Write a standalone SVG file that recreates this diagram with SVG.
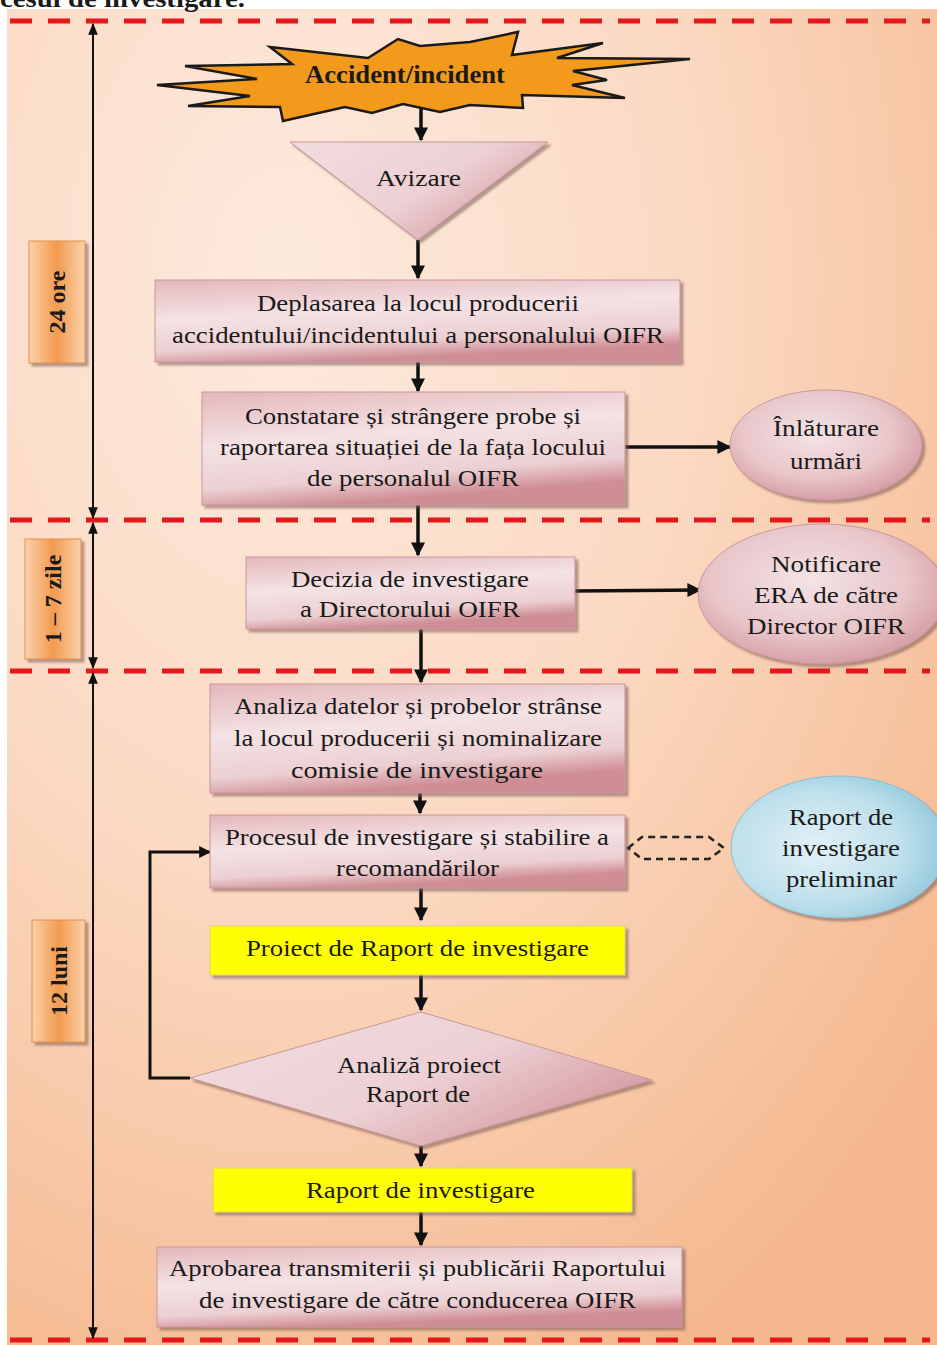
<svg xmlns="http://www.w3.org/2000/svg" width="937" height="1345" viewBox="0 0 937 1345">
<defs>
<radialGradient id="bg" cx="0.3" cy="0.2" r="0.9">
<stop offset="0" stop-color="#fdeade"/>
<stop offset="0.5" stop-color="#fbd9c2"/>
<stop offset="1" stop-color="#f5b88e"/>
</radialGradient>
<linearGradient id="pink" x1="0" y1="0" x2="0.3" y2="1">
<stop offset="0" stop-color="#e4b7bb"/>
<stop offset="0.45" stop-color="#f4e2e4"/>
<stop offset="0.8" stop-color="#ecd0d3"/>
<stop offset="1" stop-color="#cf8d95"/>
</linearGradient>
<linearGradient id="pinkTri" x1="0" y1="0" x2="1" y2="0.6">
<stop offset="0" stop-color="#f3dde0"/>
<stop offset="0.6" stop-color="#ecd0d4"/>
<stop offset="1" stop-color="#d59aa1"/>
</linearGradient>
<radialGradient id="pinkEl" cx="0.45" cy="0.4" r="0.65">
<stop offset="0" stop-color="#f4e3e5"/>
<stop offset="0.6" stop-color="#e8c6ca"/>
<stop offset="1" stop-color="#d3979e"/>
</radialGradient>
<radialGradient id="blueEl" cx="0.4" cy="0.5" r="0.65">
<stop offset="0" stop-color="#e3f1f6"/>
<stop offset="0.6" stop-color="#bfe0ec"/>
<stop offset="1" stop-color="#8cc6da"/>
</radialGradient>
<linearGradient id="orangeLbl" x1="0" y1="0" x2="1" y2="0">
<stop offset="0" stop-color="#fbd2ac"/>
<stop offset="0.5" stop-color="#f29a4f"/>
<stop offset="1" stop-color="#fbd2ac"/>
</linearGradient>
<filter id="sh" x="-10%" y="-10%" width="130%" height="140%">
<feDropShadow dx="3" dy="3" stdDeviation="1.2" flood-color="#7a5a55" flood-opacity="0.55"/>
</filter>
<marker id="ah" viewBox="0 0 10 10" refX="9" refY="5" markerWidth="4" markerHeight="4" orient="auto" markerUnits="strokeWidth">
<path d="M0,0 L10,5 L0,10 z" fill="#111"/>
</marker>
<marker id="ahT" viewBox="0 0 10 10" refX="9" refY="5" markerWidth="6" markerHeight="6" orient="auto" markerUnits="strokeWidth">
<path d="M0,1 L10,5 L0,9 z" fill="#111"/>
</marker>
<marker id="ahS" viewBox="0 0 10 10" refX="1" refY="5" markerWidth="6" markerHeight="6" orient="auto" markerUnits="strokeWidth">
<path d="M10,1 L0,5 L10,9 z" fill="#111"/>
</marker>
</defs>
<style>
text{font-family:"Liberation Serif","Times New Roman",serif;fill:#1a1a1a;text-anchor:middle}
.t{font-size:23px}
.b{font-weight:bold}
.box{fill:url(#pink);stroke:#c8959b;stroke-width:1;filter:url(#sh)}
.ybox{fill:#ffff00;stroke:#d8d870;stroke-width:1;filter:url(#sh)}
.red{stroke:#e4171b;stroke-width:5;stroke-dasharray:22 16;fill:none}
.c{stroke:#111;stroke-width:3.5;fill:none}
.tl{stroke:#111;stroke-width:2;fill:none}
.lbl{fill:url(#orangeLbl);stroke:#e0904a;stroke-width:1;filter:url(#sh)}
</style>
<rect x="0" y="0" width="937" height="1345" fill="#ffffff"/>
<rect x="7" y="9" width="930" height="1336" fill="url(#bg)"/>
<text x="0" y="7" class="b" style="font-size:25px;text-anchor:start" textLength="245" lengthAdjust="spacingAndGlyphs">cesul de investigare.</text>

<g id="separators">
<line x1="10" y1="21" x2="930" y2="21" class="red"/>
<line x1="10" y1="520" x2="930" y2="520" class="red"/>
<line x1="10" y1="671" x2="930" y2="671" class="red"/>
<line x1="10" y1="1340" x2="930" y2="1340" class="red"/>
</g>

<g id="timeline">
<line x1="93" y1="24" x2="93" y2="518" class="tl" marker-start="url(#ahS)" marker-end="url(#ahT)"/>
<line x1="93" y1="523" x2="93" y2="668" class="tl" marker-start="url(#ahS)" marker-end="url(#ahT)"/>
<line x1="93" y1="673" x2="93" y2="1338" class="tl" marker-start="url(#ahS)" marker-end="url(#ahT)"/>
</g>

<g id="label-24ore">
<rect x="29" y="241" width="56" height="122" class="lbl"/>
<text transform="translate(65,302) rotate(-90)" class="b" style="font-size:24px">24 ore</text>
</g>
<g id="label-1-7zile">
<rect x="25" y="539" width="56" height="120" class="lbl"/>
<text transform="translate(61,599) rotate(-90)" class="b" style="font-size:24px">1 – 7 zile</text>
</g>
<g id="label-12luni">
<rect x="32" y="920" width="53" height="122" class="lbl"/>
<text transform="translate(67,981) rotate(-90)" class="b" style="font-size:24px">12 luni</text>
</g>

<g id="connectors">
<line x1="421" y1="108" x2="421" y2="140" class="c" marker-end="url(#ah)"/>
<line x1="418" y1="240" x2="418" y2="278" class="c" marker-end="url(#ah)"/>
<line x1="418" y1="362" x2="418" y2="391" class="c" marker-end="url(#ah)"/>
<line x1="625" y1="447" x2="730" y2="447" class="c" marker-end="url(#ah)"/>
<line x1="418" y1="505" x2="418" y2="555" class="c" marker-end="url(#ah)"/>
<line x1="575" y1="591" x2="700" y2="590" class="c" marker-end="url(#ah)"/>
<line x1="421" y1="629" x2="421" y2="682" class="c" marker-end="url(#ah)"/>
<line x1="420" y1="793" x2="420" y2="813" class="c" marker-end="url(#ah)"/>
<line x1="421" y1="888" x2="421" y2="920" class="c" marker-end="url(#ah)"/>
<line x1="421" y1="975" x2="421" y2="1010" class="c" marker-end="url(#ah)"/>
<line x1="421" y1="1143" x2="421" y2="1166" class="c" marker-end="url(#ah)"/>
<line x1="421" y1="1212" x2="421" y2="1245" class="c" marker-end="url(#ah)"/>
<polyline points="190,1078 150,1078 150,852 210,852" class="c" style="stroke-width:3" marker-end="url(#ah)"/>
<path d="M628,848 L642,837 L709,837 L724,848 L709,859 L642,859 Z" fill="none" stroke="#222" stroke-width="2.5" stroke-dasharray="7 5"/>
</g>

<g id="node-accident">
<polygon points="270,47 368,58 398,39 420,46 470,42 518,32 512,55 603,43 557,58 690,59 573,71 607,80 572,85 625,98 522,95 523,108 470,105 440,112 403,104 372,113 345,107 283,121 280,107 188,106 250,96 157,85 257,79 185,66 292,64" fill="#f39a1c" stroke="#1a1a1a" stroke-width="2.5" stroke-linejoin="miter"/>
<text x="405" y="83" class="b" style="font-size:25px" textLength="200" lengthAdjust="spacingAndGlyphs">Accident/incident</text>
</g>

<g id="node-avizare">
<polygon points="290,142 548,142 418,240" fill="url(#pinkTri)" stroke="#c8959b" stroke-width="1" filter="url(#sh)"/>
<text x="418.5" y="186" class="t" textLength="85" lengthAdjust="spacingAndGlyphs">Avizare</text>
</g>

<g id="node-deplasarea">
<rect x="155" y="280" width="525" height="82" class="box"/>
<text x="418" y="311" class="t" textLength="322" lengthAdjust="spacingAndGlyphs">Deplasarea la locul producerii</text>
<text x="418" y="343" class="t" textLength="492" lengthAdjust="spacingAndGlyphs">accidentului/incidentului a personalului OIFR</text>
</g>

<g id="node-constatare">
<rect x="202" y="392" width="423" height="113" class="box"/>
<text x="413" y="424" class="t" textLength="336" lengthAdjust="spacingAndGlyphs">Constatare și strângere probe și</text>
<text x="413" y="455" class="t" textLength="386" lengthAdjust="spacingAndGlyphs">raportarea situației de la fața locului</text>
<text x="413" y="486" class="t" textLength="212" lengthAdjust="spacingAndGlyphs">de personalul OIFR</text>
</g>

<g id="node-inlaturare">
<ellipse cx="826" cy="445" rx="96" ry="55" fill="url(#pinkEl)" stroke="#c8959b" stroke-width="1" filter="url(#sh)"/>
<text x="826" y="436" class="t" textLength="106" lengthAdjust="spacingAndGlyphs">Înlăturare</text>
<text x="826" y="469" class="t" textLength="72" lengthAdjust="spacingAndGlyphs">urmări</text>
</g>

<g id="node-decizia">
<rect x="246" y="557" width="329" height="72" class="box"/>
<text x="410" y="587" class="t" textLength="238" lengthAdjust="spacingAndGlyphs">Decizia de investigare</text>
<text x="410" y="617" class="t" textLength="220" lengthAdjust="spacingAndGlyphs">a Directorului OIFR</text>
</g>

<g id="node-notificare">
<ellipse cx="822" cy="594" rx="124" ry="70" fill="url(#pinkEl)" stroke="#c8959b" stroke-width="1" filter="url(#sh)"/>
<text x="826" y="572" class="t" textLength="110" lengthAdjust="spacingAndGlyphs">Notificare</text>
<text x="826" y="603" class="t" textLength="144" lengthAdjust="spacingAndGlyphs">ERA de către</text>
<text x="826" y="634" class="t" textLength="158" lengthAdjust="spacingAndGlyphs">Director OIFR</text>
</g>

<g id="node-analiza">
<rect x="210" y="684" width="415" height="109" class="box"/>
<text x="418" y="714" class="t" textLength="368" lengthAdjust="spacingAndGlyphs">Analiza datelor și probelor strânse</text>
<text x="418" y="746" class="t" textLength="368" lengthAdjust="spacingAndGlyphs">la locul producerii și nominalizare</text>
<text x="417" y="778" class="t" textLength="252" lengthAdjust="spacingAndGlyphs">comisie de investigare</text>
</g>

<g id="node-procesul">
<rect x="210" y="815" width="415" height="73" class="box"/>
<text x="417" y="845" class="t" textLength="384" lengthAdjust="spacingAndGlyphs">Procesul de investigare și stabilire a</text>
<text x="417.5" y="876" class="t" textLength="163" lengthAdjust="spacingAndGlyphs">recomandărilor</text>
</g>

<g id="node-raport-preliminar">
<ellipse cx="839" cy="847" rx="108" ry="71" fill="url(#blueEl)" stroke="#8fbccb" stroke-width="1" filter="url(#sh)"/>
<text x="841" y="825" class="t" textLength="104" lengthAdjust="spacingAndGlyphs">Raport de</text>
<text x="841" y="856" class="t" textLength="118" lengthAdjust="spacingAndGlyphs">investigare</text>
<text x="841.5" y="887" class="t" textLength="111" lengthAdjust="spacingAndGlyphs">preliminar</text>
</g>

<g id="node-proiect">
<rect x="210" y="926" width="415" height="49" class="ybox"/>
<text x="417.5" y="956" class="t" textLength="343" lengthAdjust="spacingAndGlyphs">Proiect de Raport de investigare</text>
</g>

<g id="node-analiza-proiect">
<polygon points="421,1012 652,1080 421,1146 190,1078" fill="url(#pinkTri)" stroke="#c8959b" stroke-width="1" filter="url(#sh)"/>
<text x="419" y="1073" class="t" textLength="164" lengthAdjust="spacingAndGlyphs">Analiză proiect</text>
<text x="418" y="1102" class="t" textLength="104" lengthAdjust="spacingAndGlyphs">Raport de</text>
</g>

<g id="node-raport">
<rect x="213" y="1168" width="419" height="44" class="ybox"/>
<text x="420.5" y="1198" class="t" textLength="229" lengthAdjust="spacingAndGlyphs">Raport de investigare</text>
</g>

<g id="node-aprobarea">
<rect x="157" y="1247" width="525" height="80" class="box"/>
<text x="417.5" y="1276" class="t" textLength="497" lengthAdjust="spacingAndGlyphs">Aprobarea transmiterii și publicării Raportului</text>
<text x="417.5" y="1308" class="t" textLength="437" lengthAdjust="spacingAndGlyphs">de investigare de către conducerea OIFR</text>
</g>
</svg>
